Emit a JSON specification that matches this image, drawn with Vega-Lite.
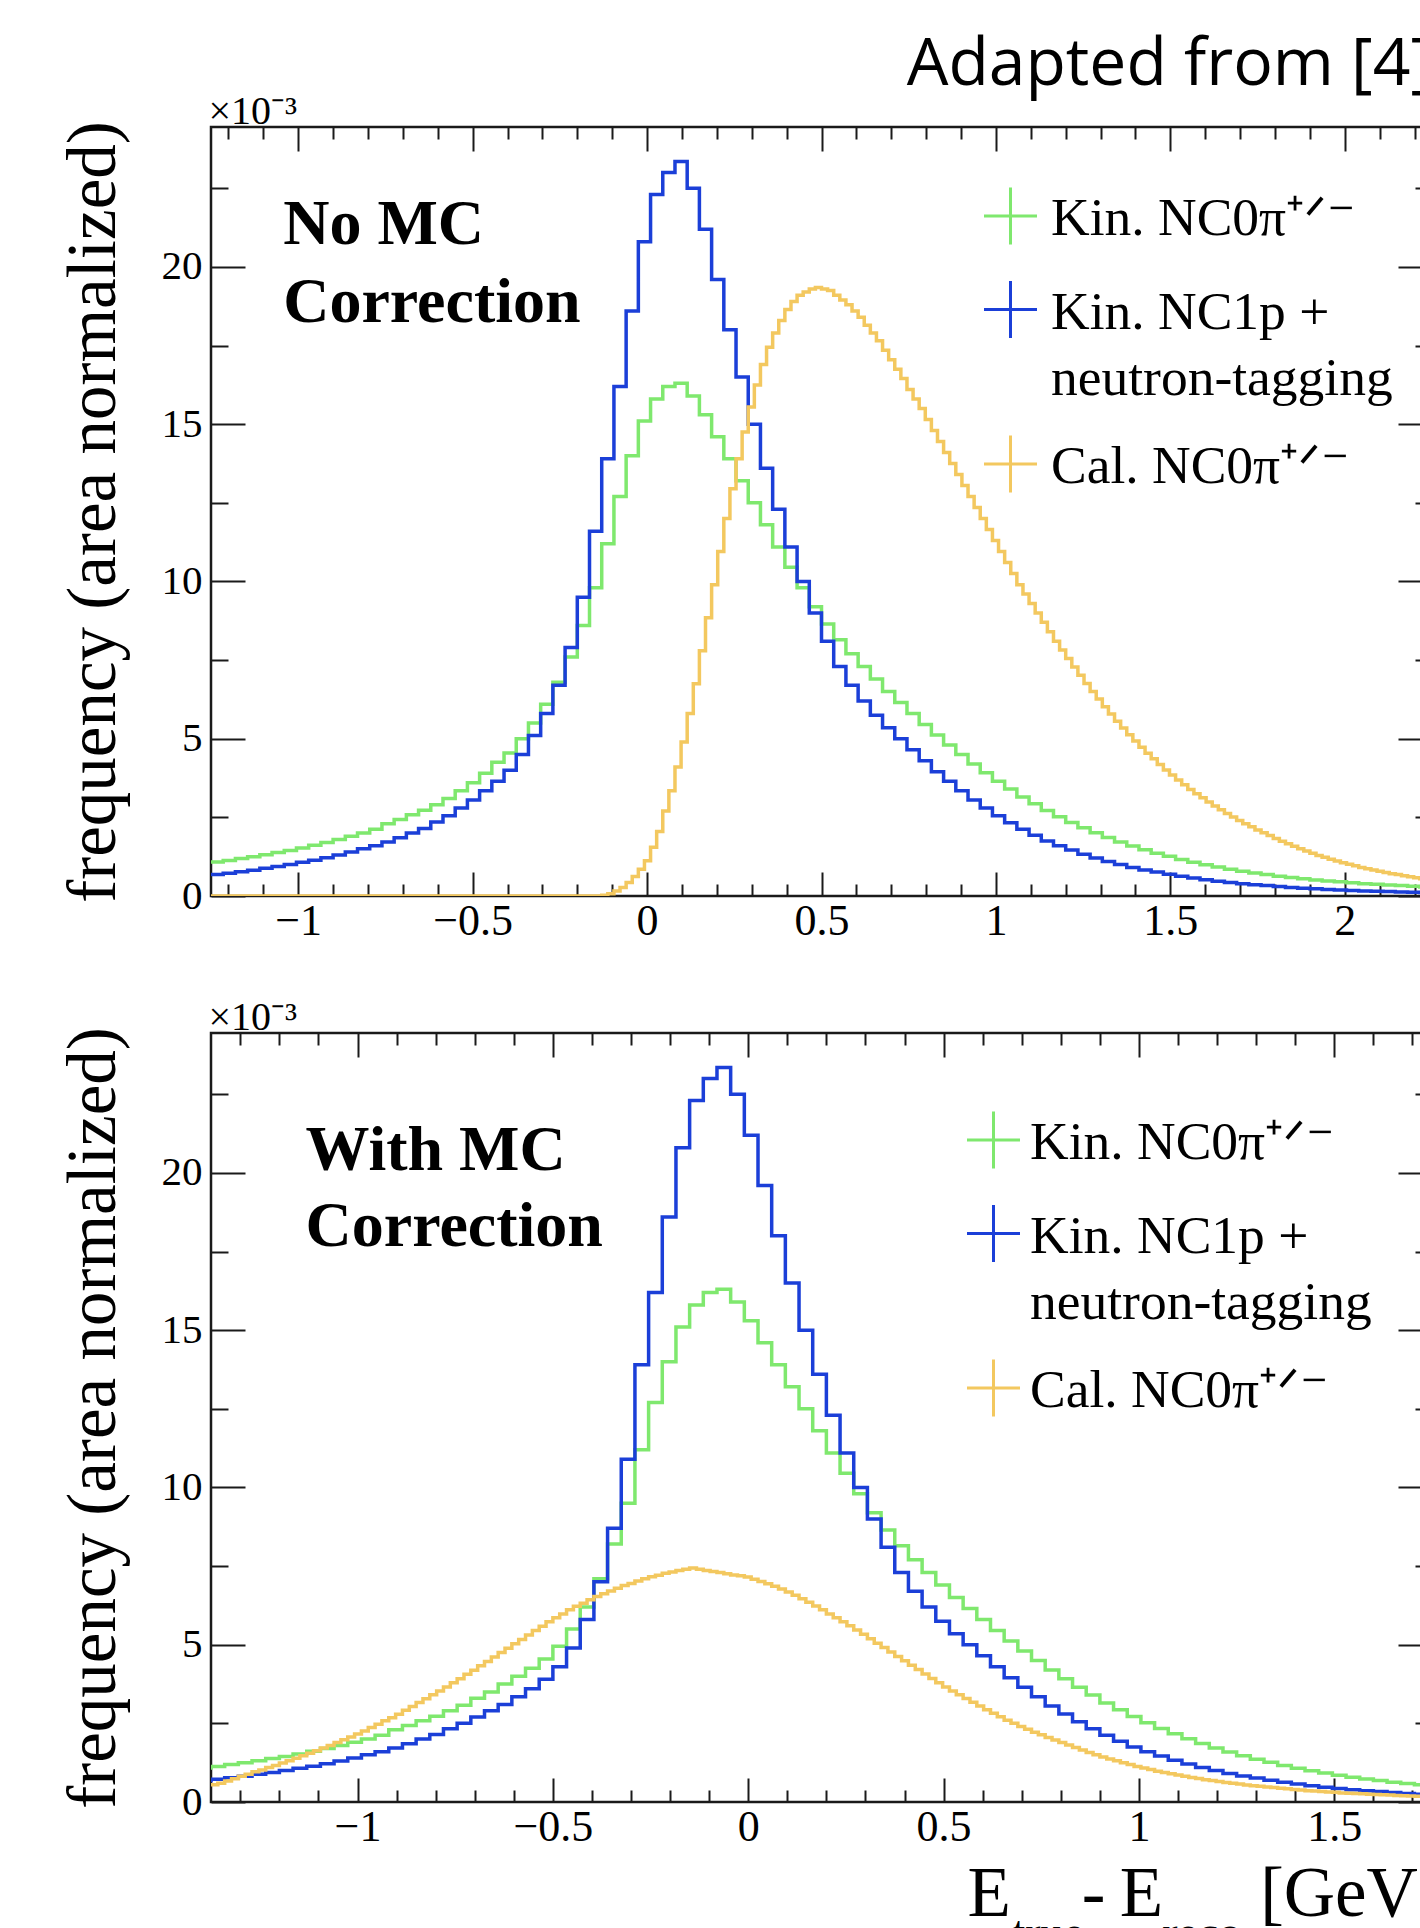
{
  "$schema": "https://vega.github.io/schema/vega-lite/v6.json",
  "background": "white",
  "padding": {"left": 57, "top": 31, "right": 0, "bottom": 0},
  "title": {"text": "Adapted from [4]", "anchor": "end", "frame": "group", "font": "Open Sans", "fontSize": 66, "fontWeight": "normal", "color": "black", "baseline": "alphabetic", "offset": -61},
  "config": {
    "view": {"stroke": "#1a1a1a", "strokeWidth": 2.5},
    "axis": {"grid": false, "domain": false, "tickColor": "#1a1a1a", "tickWidth": 2, "labelFont": "Liberation Serif", "labelColor": "black", "labelFontSize": 44, "labelFlush": false, "labelOverlap": false, "titleColor": "black", "titleFont": "Liberation Serif", "titleFontWeight": "normal"}
  },
  "datasets": {
    "kinTop": [
      {"x":-1.25,"kin0pi":1.08,"kin1p":0.68},{"x":-1.215,"kin0pi":1.13,"kin1p":0.72},{"x":-1.18,"kin0pi":1.19,"kin1p":0.77},{"x":-1.145,"kin0pi":1.25,"kin1p":0.82},{"x":-1.11,"kin0pi":1.31,"kin1p":0.88},{"x":-1.075,"kin0pi":1.38,"kin1p":0.94},{"x":-1.04,"kin0pi":1.45,"kin1p":1.0},{"x":-1.005,"kin0pi":1.53,"kin1p":1.07},{"x":-0.97,"kin0pi":1.61,"kin1p":1.14},{"x":-0.935,"kin0pi":1.7,"kin1p":1.22},
      {"x":-0.9,"kin0pi":1.8,"kin1p":1.3},{"x":-0.865,"kin0pi":1.9,"kin1p":1.4},{"x":-0.83,"kin0pi":2.0,"kin1p":1.5},{"x":-0.795,"kin0pi":2.12,"kin1p":1.6},{"x":-0.76,"kin0pi":2.3,"kin1p":1.72},{"x":-0.725,"kin0pi":2.43,"kin1p":1.85},{"x":-0.69,"kin0pi":2.58,"kin1p":2.0},{"x":-0.655,"kin0pi":2.73,"kin1p":2.15},{"x":-0.62,"kin0pi":2.9,"kin1p":2.35},{"x":-0.585,"kin0pi":3.1,"kin1p":2.55},
      {"x":-0.55,"kin0pi":3.35,"kin1p":2.8},{"x":-0.515,"kin0pi":3.6,"kin1p":3.05},{"x":-0.48,"kin0pi":3.9,"kin1p":3.35},{"x":-0.445,"kin0pi":4.25,"kin1p":3.65},{"x":-0.41,"kin0pi":4.55,"kin1p":4.0},{"x":-0.375,"kin0pi":5.0,"kin1p":4.5},{"x":-0.34,"kin0pi":5.5,"kin1p":5.1},{"x":-0.305,"kin0pi":6.1,"kin1p":5.8},{"x":-0.27,"kin0pi":6.8,"kin1p":6.7},{"x":-0.235,"kin0pi":7.6,"kin1p":7.9},
      {"x":-0.2,"kin0pi":8.6,"kin1p":9.5},{"x":-0.165,"kin0pi":9.8,"kin1p":11.6},{"x":-0.13,"kin0pi":11.2,"kin1p":13.9},{"x":-0.095,"kin0pi":12.7,"kin1p":16.2},{"x":-0.06,"kin0pi":14.0,"kin1p":18.6},{"x":-0.025,"kin0pi":15.1,"kin1p":20.8},{"x":0.01,"kin0pi":15.8,"kin1p":22.3},{"x":0.045,"kin0pi":16.2,"kin1p":23.0},{"x":0.08,"kin0pi":16.3,"kin1p":23.35},{"x":0.115,"kin0pi":15.9,"kin1p":22.5},
      {"x":0.15,"kin0pi":15.3,"kin1p":21.2},{"x":0.185,"kin0pi":14.6,"kin1p":19.6},{"x":0.22,"kin0pi":13.9,"kin1p":18.0},{"x":0.255,"kin0pi":13.2,"kin1p":16.5},{"x":0.29,"kin0pi":12.5,"kin1p":15.0},{"x":0.325,"kin0pi":11.8,"kin1p":13.6},{"x":0.36,"kin0pi":11.1,"kin1p":12.3},{"x":0.395,"kin0pi":10.45,"kin1p":11.1},{"x":0.43,"kin0pi":9.8,"kin1p":10.0},{"x":0.465,"kin0pi":9.2,"kin1p":9.0},
      {"x":0.5,"kin0pi":8.65,"kin1p":8.1},{"x":0.535,"kin0pi":8.15,"kin1p":7.3},{"x":0.57,"kin0pi":7.7,"kin1p":6.7},{"x":0.605,"kin0pi":7.3,"kin1p":6.2},{"x":0.64,"kin0pi":6.9,"kin1p":5.75},{"x":0.675,"kin0pi":6.5,"kin1p":5.35},{"x":0.71,"kin0pi":6.15,"kin1p":5.0},{"x":0.745,"kin0pi":5.8,"kin1p":4.65},{"x":0.78,"kin0pi":5.45,"kin1p":4.3},{"x":0.815,"kin0pi":5.12,"kin1p":3.95},
      {"x":0.85,"kin0pi":4.8,"kin1p":3.65},{"x":0.885,"kin0pi":4.5,"kin1p":3.35},{"x":0.92,"kin0pi":4.2,"kin1p":3.05},{"x":0.955,"kin0pi":3.92,"kin1p":2.8},{"x":0.99,"kin0pi":3.65,"kin1p":2.55},{"x":1.025,"kin0pi":3.4,"kin1p":2.33},{"x":1.06,"kin0pi":3.15,"kin1p":2.12},{"x":1.095,"kin0pi":2.93,"kin1p":1.93},{"x":1.13,"kin0pi":2.72,"kin1p":1.75},{"x":1.165,"kin0pi":2.52,"kin1p":1.6},
      {"x":1.2,"kin0pi":2.34,"kin1p":1.46},{"x":1.235,"kin0pi":2.17,"kin1p":1.33},{"x":1.27,"kin0pi":2.01,"kin1p":1.21},{"x":1.305,"kin0pi":1.86,"kin1p":1.1},{"x":1.34,"kin0pi":1.72,"kin1p":1.0},{"x":1.375,"kin0pi":1.59,"kin1p":0.91},{"x":1.41,"kin0pi":1.47,"kin1p":0.83},{"x":1.445,"kin0pi":1.36,"kin1p":0.76},{"x":1.48,"kin0pi":1.26,"kin1p":0.69},{"x":1.515,"kin0pi":1.16,"kin1p":0.63},
      {"x":1.55,"kin0pi":1.07,"kin1p":0.57},{"x":1.585,"kin0pi":0.99,"kin1p":0.52},{"x":1.62,"kin0pi":0.92,"kin1p":0.47},{"x":1.655,"kin0pi":0.85,"kin1p":0.43},{"x":1.69,"kin0pi":0.79,"kin1p":0.39},{"x":1.725,"kin0pi":0.73,"kin1p":0.36},{"x":1.76,"kin0pi":0.68,"kin1p":0.33},{"x":1.795,"kin0pi":0.63,"kin1p":0.3},{"x":1.83,"kin0pi":0.59,"kin1p":0.27},{"x":1.865,"kin0pi":0.55,"kin1p":0.25},
      {"x":1.9,"kin0pi":0.51,"kin1p":0.23},{"x":1.935,"kin0pi":0.48,"kin1p":0.21},{"x":1.97,"kin0pi":0.45,"kin1p":0.19},{"x":2.005,"kin0pi":0.42,"kin1p":0.175},{"x":2.04,"kin0pi":0.39,"kin1p":0.16},{"x":2.075,"kin0pi":0.37,"kin1p":0.15},{"x":2.11,"kin0pi":0.35,"kin1p":0.14},{"x":2.145,"kin0pi":0.33,"kin1p":0.13},{"x":2.18,"kin0pi":0.31,"kin1p":0.12},{"x":2.215,"kin0pi":0.29,"kin1p":0.11},
      {"x":2.25,"kin0pi":0.29,"kin1p":0.11}
    ],
    "kinBottom": [
      {"x":-1.41,"kin0pi":1.08,"kin1p":0.68},{"x":-1.375,"kin0pi":1.13,"kin1p":0.72},{"x":-1.34,"kin0pi":1.19,"kin1p":0.77},{"x":-1.305,"kin0pi":1.25,"kin1p":0.82},{"x":-1.27,"kin0pi":1.31,"kin1p":0.88},{"x":-1.235,"kin0pi":1.38,"kin1p":0.94},{"x":-1.2,"kin0pi":1.45,"kin1p":1.0},{"x":-1.165,"kin0pi":1.53,"kin1p":1.07},{"x":-1.13,"kin0pi":1.61,"kin1p":1.14},{"x":-1.095,"kin0pi":1.7,"kin1p":1.22},
      {"x":-1.06,"kin0pi":1.8,"kin1p":1.3},{"x":-1.025,"kin0pi":1.9,"kin1p":1.4},{"x":-0.99,"kin0pi":2.0,"kin1p":1.5},{"x":-0.955,"kin0pi":2.12,"kin1p":1.6},{"x":-0.92,"kin0pi":2.3,"kin1p":1.72},{"x":-0.885,"kin0pi":2.43,"kin1p":1.85},{"x":-0.85,"kin0pi":2.58,"kin1p":2.0},{"x":-0.815,"kin0pi":2.73,"kin1p":2.15},{"x":-0.78,"kin0pi":2.9,"kin1p":2.33},{"x":-0.745,"kin0pi":3.08,"kin1p":2.5},
      {"x":-0.71,"kin0pi":3.3,"kin1p":2.7},{"x":-0.675,"kin0pi":3.5,"kin1p":2.9},{"x":-0.64,"kin0pi":3.75,"kin1p":3.1},{"x":-0.605,"kin0pi":4.0,"kin1p":3.35},{"x":-0.57,"kin0pi":4.25,"kin1p":3.6},{"x":-0.535,"kin0pi":4.55,"kin1p":3.9},{"x":-0.5,"kin0pi":4.95,"kin1p":4.3},{"x":-0.465,"kin0pi":5.5,"kin1p":4.9},{"x":-0.43,"kin0pi":6.2,"kin1p":5.8},{"x":-0.395,"kin0pi":7.1,"kin1p":7.0},
      {"x":-0.36,"kin0pi":8.2,"kin1p":8.7},{"x":-0.325,"kin0pi":9.5,"kin1p":10.9},{"x":-0.29,"kin0pi":11.2,"kin1p":13.9},{"x":-0.255,"kin0pi":12.7,"kin1p":16.2},{"x":-0.22,"kin0pi":14.0,"kin1p":18.6},{"x":-0.185,"kin0pi":15.1,"kin1p":20.8},{"x":-0.15,"kin0pi":15.8,"kin1p":22.3},{"x":-0.115,"kin0pi":16.2,"kin1p":23.0},{"x":-0.08,"kin0pi":16.3,"kin1p":23.35},{"x":-0.045,"kin0pi":15.9,"kin1p":22.5},
      {"x":-0.01,"kin0pi":15.3,"kin1p":21.2},{"x":0.025,"kin0pi":14.6,"kin1p":19.6},{"x":0.06,"kin0pi":13.9,"kin1p":18.0},{"x":0.095,"kin0pi":13.2,"kin1p":16.5},{"x":0.13,"kin0pi":12.5,"kin1p":15.0},{"x":0.165,"kin0pi":11.8,"kin1p":13.6},{"x":0.2,"kin0pi":11.1,"kin1p":12.3},{"x":0.235,"kin0pi":10.45,"kin1p":11.1},{"x":0.27,"kin0pi":9.8,"kin1p":10.0},{"x":0.305,"kin0pi":9.2,"kin1p":9.0},
      {"x":0.34,"kin0pi":8.65,"kin1p":8.1},{"x":0.375,"kin0pi":8.15,"kin1p":7.3},{"x":0.41,"kin0pi":7.7,"kin1p":6.7},{"x":0.445,"kin0pi":7.3,"kin1p":6.2},{"x":0.48,"kin0pi":6.9,"kin1p":5.75},{"x":0.515,"kin0pi":6.5,"kin1p":5.35},{"x":0.55,"kin0pi":6.15,"kin1p":5.0},{"x":0.585,"kin0pi":5.8,"kin1p":4.65},{"x":0.62,"kin0pi":5.45,"kin1p":4.3},{"x":0.655,"kin0pi":5.12,"kin1p":3.95},
      {"x":0.69,"kin0pi":4.8,"kin1p":3.65},{"x":0.725,"kin0pi":4.5,"kin1p":3.35},{"x":0.76,"kin0pi":4.2,"kin1p":3.05},{"x":0.795,"kin0pi":3.92,"kin1p":2.8},{"x":0.83,"kin0pi":3.65,"kin1p":2.55},{"x":0.865,"kin0pi":3.4,"kin1p":2.33},{"x":0.9,"kin0pi":3.15,"kin1p":2.12},{"x":0.935,"kin0pi":2.93,"kin1p":1.93},{"x":0.97,"kin0pi":2.72,"kin1p":1.75},{"x":1.005,"kin0pi":2.52,"kin1p":1.6},
      {"x":1.04,"kin0pi":2.34,"kin1p":1.46},{"x":1.075,"kin0pi":2.17,"kin1p":1.33},{"x":1.11,"kin0pi":2.01,"kin1p":1.21},{"x":1.145,"kin0pi":1.86,"kin1p":1.1},{"x":1.18,"kin0pi":1.72,"kin1p":1.0},{"x":1.215,"kin0pi":1.59,"kin1p":0.91},{"x":1.25,"kin0pi":1.47,"kin1p":0.83},{"x":1.285,"kin0pi":1.36,"kin1p":0.76},{"x":1.32,"kin0pi":1.26,"kin1p":0.69},{"x":1.355,"kin0pi":1.16,"kin1p":0.63},
      {"x":1.39,"kin0pi":1.07,"kin1p":0.57},{"x":1.425,"kin0pi":0.99,"kin1p":0.52},{"x":1.46,"kin0pi":0.92,"kin1p":0.47},{"x":1.495,"kin0pi":0.85,"kin1p":0.43},{"x":1.53,"kin0pi":0.79,"kin1p":0.39},{"x":1.565,"kin0pi":0.73,"kin1p":0.36},{"x":1.6,"kin0pi":0.68,"kin1p":0.33},{"x":1.635,"kin0pi":0.63,"kin1p":0.3},{"x":1.67,"kin0pi":0.59,"kin1p":0.27},{"x":1.705,"kin0pi":0.55,"kin1p":0.25},
      {"x":1.74,"kin0pi":0.51,"kin1p":0.23},{"x":1.775,"kin0pi":0.48,"kin1p":0.21}
    ],
    "calTop": [
      {"x":-1.3,"v":0},{"x":-0.13,"v":0.02},{"x":-0.1125,"v":0.07},{"x":-0.095,"v":0.16},{"x":-0.0775,"v":0.27},{"x":-0.06,"v":0.43},{"x":-0.0425,"v":0.62},{"x":-0.025,"v":0.85},{"x":-0.0075,"v":1.12},{"x":0.01,"v":1.55},{"x":0.0275,"v":2.05},
      {"x":0.045,"v":2.7},{"x":0.0625,"v":3.35},{"x":0.08,"v":4.1},{"x":0.0975,"v":4.9},{"x":0.115,"v":5.8},{"x":0.1325,"v":6.75},{"x":0.15,"v":7.8},{"x":0.1675,"v":8.85},{"x":0.185,"v":9.9},{"x":0.2025,"v":10.95},
      {"x":0.22,"v":12.0},{"x":0.2375,"v":12.95},{"x":0.255,"v":13.9},{"x":0.2725,"v":14.75},{"x":0.29,"v":15.55},{"x":0.3075,"v":16.25},{"x":0.325,"v":16.9},{"x":0.3425,"v":17.45},{"x":0.36,"v":17.9},{"x":0.3775,"v":18.3},
      {"x":0.395,"v":18.65},{"x":0.4125,"v":18.9},{"x":0.43,"v":19.1},{"x":0.4475,"v":19.2},{"x":0.465,"v":19.3},{"x":0.4825,"v":19.35},{"x":0.5,"v":19.3},{"x":0.5175,"v":19.25},{"x":0.535,"v":19.1},{"x":0.5525,"v":18.95},
      {"x":0.57,"v":18.8},{"x":0.5875,"v":18.6},{"x":0.605,"v":18.4},{"x":0.6225,"v":18.15},{"x":0.64,"v":17.9},{"x":0.6575,"v":17.65},{"x":0.675,"v":17.35},{"x":0.6925,"v":17.05},{"x":0.71,"v":16.75},{"x":0.7275,"v":16.45},
      {"x":0.745,"v":16.1},{"x":0.7625,"v":15.8},{"x":0.78,"v":15.5},{"x":0.7975,"v":15.15},{"x":0.815,"v":14.8},{"x":0.8325,"v":14.45},{"x":0.85,"v":14.1},{"x":0.8675,"v":13.75},{"x":0.885,"v":13.4},{"x":0.9025,"v":13.05},
      {"x":0.92,"v":12.7},{"x":0.9375,"v":12.35},{"x":0.955,"v":12.0},{"x":0.9725,"v":11.65},{"x":0.99,"v":11.3},{"x":1.0075,"v":10.95},{"x":1.025,"v":10.6},{"x":1.0425,"v":10.25},{"x":1.06,"v":9.9},{"x":1.0775,"v":9.6},
      {"x":1.095,"v":9.3},{"x":1.1125,"v":9.0},{"x":1.13,"v":8.7},{"x":1.1475,"v":8.4},{"x":1.165,"v":8.1},{"x":1.1825,"v":7.82},{"x":1.2,"v":7.55},{"x":1.2175,"v":7.28},{"x":1.235,"v":7.02},{"x":1.2525,"v":6.76},
      {"x":1.27,"v":6.5},{"x":1.2875,"v":6.26},{"x":1.305,"v":6.02},{"x":1.3225,"v":5.79},{"x":1.34,"v":5.56},{"x":1.3575,"v":5.34},{"x":1.375,"v":5.13},{"x":1.3925,"v":4.93},{"x":1.41,"v":4.73},{"x":1.4275,"v":4.54},
      {"x":1.445,"v":4.36},{"x":1.4625,"v":4.18},{"x":1.48,"v":4.01},{"x":1.4975,"v":3.85},{"x":1.515,"v":3.69},{"x":1.5325,"v":3.54},{"x":1.55,"v":3.39},{"x":1.5675,"v":3.25},{"x":1.585,"v":3.12},{"x":1.6025,"v":2.99},
      {"x":1.62,"v":2.86},{"x":1.6375,"v":2.74},{"x":1.655,"v":2.62},{"x":1.6725,"v":2.51},{"x":1.69,"v":2.4},{"x":1.7075,"v":2.3},{"x":1.725,"v":2.2},{"x":1.7425,"v":2.1},{"x":1.76,"v":2.01},{"x":1.7775,"v":1.92},
      {"x":1.795,"v":1.83},{"x":1.8125,"v":1.74},{"x":1.83,"v":1.66},{"x":1.8475,"v":1.58},{"x":1.865,"v":1.5},{"x":1.8825,"v":1.43},{"x":1.9,"v":1.36},{"x":1.9175,"v":1.29},{"x":1.935,"v":1.23},{"x":1.9525,"v":1.17},
      {"x":1.97,"v":1.11},{"x":1.9875,"v":1.06},{"x":2.005,"v":1.01},{"x":2.0225,"v":0.96},{"x":2.04,"v":0.91},{"x":2.0575,"v":0.87},{"x":2.075,"v":0.83},{"x":2.0925,"v":0.79},{"x":2.11,"v":0.75},{"x":2.1275,"v":0.71},
      {"x":2.145,"v":0.68},{"x":2.1625,"v":0.64},{"x":2.18,"v":0.61},{"x":2.1975,"v":0.58},{"x":2.215,"v":0.55},{"x":2.2325,"v":0.52},{"x":2.25,"v":0.52}
    ],
    "calBottom": [
      {"x":-1.375,"v":0.55},{"x":-1.3575,"v":0.6},{"x":-1.34,"v":0.67},{"x":-1.3225,"v":0.74},{"x":-1.305,"v":0.82},{"x":-1.2875,"v":0.88},{"x":-1.27,"v":0.96},{"x":-1.2525,"v":1.02},{"x":-1.235,"v":1.1},{"x":-1.2175,"v":1.16},
      {"x":-1.2,"v":1.24},{"x":-1.1825,"v":1.31},{"x":-1.165,"v":1.39},{"x":-1.1475,"v":1.47},{"x":-1.13,"v":1.55},{"x":-1.1125,"v":1.63},{"x":-1.095,"v":1.72},{"x":-1.0775,"v":1.8},{"x":-1.06,"v":1.89},{"x":-1.0425,"v":1.98},
      {"x":-1.025,"v":2.07},{"x":-1.0075,"v":2.16},{"x":-0.99,"v":2.26},{"x":-0.9725,"v":2.37},{"x":-0.955,"v":2.47},{"x":-0.9375,"v":2.58},{"x":-0.92,"v":2.68},{"x":-0.9025,"v":2.79},{"x":-0.885,"v":2.92},{"x":-0.8675,"v":3.04},
      {"x":-0.85,"v":3.16},{"x":-0.8325,"v":3.28},{"x":-0.815,"v":3.41},{"x":-0.7975,"v":3.53},{"x":-0.78,"v":3.66},{"x":-0.7625,"v":3.79},{"x":-0.745,"v":3.92},{"x":-0.7275,"v":4.06},{"x":-0.71,"v":4.19},{"x":-0.6925,"v":4.33},
      {"x":-0.675,"v":4.47},{"x":-0.6575,"v":4.61},{"x":-0.64,"v":4.75},{"x":-0.6225,"v":4.89},{"x":-0.605,"v":5.03},{"x":-0.5875,"v":5.17},{"x":-0.57,"v":5.31},{"x":-0.5525,"v":5.45},{"x":-0.535,"v":5.59},{"x":-0.5175,"v":5.73},
      {"x":-0.5,"v":5.86},{"x":-0.4825,"v":5.98},{"x":-0.465,"v":6.11},{"x":-0.4475,"v":6.22},{"x":-0.43,"v":6.32},{"x":-0.4125,"v":6.43},{"x":-0.395,"v":6.53},{"x":-0.3775,"v":6.62},{"x":-0.36,"v":6.71},{"x":-0.3425,"v":6.8},
      {"x":-0.325,"v":6.88},{"x":-0.3075,"v":6.95},{"x":-0.29,"v":7.03},{"x":-0.2725,"v":7.1},{"x":-0.255,"v":7.16},{"x":-0.2375,"v":7.21},{"x":-0.22,"v":7.27},{"x":-0.2025,"v":7.31},{"x":-0.185,"v":7.36},{"x":-0.1675,"v":7.4},
      {"x":-0.15,"v":7.44},{"x":-0.1325,"v":7.4},{"x":-0.115,"v":7.36},{"x":-0.0975,"v":7.33},{"x":-0.08,"v":7.3},{"x":-0.0625,"v":7.26},{"x":-0.045,"v":7.22},{"x":-0.0275,"v":7.19},{"x":-0.01,"v":7.15},{"x":0.0075,"v":7.08},
      {"x":0.025,"v":7.01},{"x":0.0425,"v":6.94},{"x":0.06,"v":6.86},{"x":0.0775,"v":6.77},{"x":0.095,"v":6.68},{"x":0.1125,"v":6.57},{"x":0.13,"v":6.46},{"x":0.1475,"v":6.35},{"x":0.165,"v":6.23},{"x":0.1825,"v":6.11},
      {"x":0.2,"v":5.98},{"x":0.2175,"v":5.86},{"x":0.235,"v":5.73},{"x":0.2525,"v":5.6},{"x":0.27,"v":5.47},{"x":0.2875,"v":5.33},{"x":0.305,"v":5.19},{"x":0.3225,"v":5.05},{"x":0.34,"v":4.91},{"x":0.3575,"v":4.77},
      {"x":0.375,"v":4.63},{"x":0.3925,"v":4.49},{"x":0.41,"v":4.35},{"x":0.4275,"v":4.21},{"x":0.445,"v":4.07},{"x":0.4625,"v":3.93},{"x":0.48,"v":3.79},{"x":0.4975,"v":3.66},{"x":0.515,"v":3.53},{"x":0.5325,"v":3.41},
      {"x":0.55,"v":3.29},{"x":0.5675,"v":3.17},{"x":0.585,"v":3.05},{"x":0.6025,"v":2.93},{"x":0.62,"v":2.82},{"x":0.6375,"v":2.71},{"x":0.655,"v":2.6},{"x":0.6725,"v":2.5},{"x":0.69,"v":2.4},{"x":0.7075,"v":2.31},
      {"x":0.725,"v":2.22},{"x":0.7425,"v":2.14},{"x":0.76,"v":2.05},{"x":0.7775,"v":1.97},{"x":0.795,"v":1.89},{"x":0.8125,"v":1.81},{"x":0.83,"v":1.73},{"x":0.8475,"v":1.65},{"x":0.865,"v":1.57},{"x":0.8825,"v":1.5},
      {"x":0.9,"v":1.43},{"x":0.9175,"v":1.37},{"x":0.935,"v":1.31},{"x":0.9525,"v":1.25},{"x":0.97,"v":1.19},{"x":0.9875,"v":1.13},{"x":1.005,"v":1.08},{"x":1.0225,"v":1.03},{"x":1.04,"v":0.98},{"x":1.0575,"v":0.94},
      {"x":1.075,"v":0.9},{"x":1.0925,"v":0.86},{"x":1.11,"v":0.82},{"x":1.1275,"v":0.78},{"x":1.145,"v":0.75},{"x":1.1625,"v":0.71},{"x":1.18,"v":0.68},{"x":1.1975,"v":0.65},{"x":1.215,"v":0.62},{"x":1.2325,"v":0.6},
      {"x":1.25,"v":0.57},{"x":1.2675,"v":0.54},{"x":1.285,"v":0.52},{"x":1.3025,"v":0.5},{"x":1.32,"v":0.48},{"x":1.3375,"v":0.46},{"x":1.355,"v":0.44},{"x":1.3725,"v":0.42},{"x":1.39,"v":0.4},{"x":1.4075,"v":0.38},
      {"x":1.425,"v":0.36},{"x":1.4425,"v":0.35},{"x":1.46,"v":0.33},{"x":1.4775,"v":0.32},{"x":1.495,"v":0.31},{"x":1.5125,"v":0.29},{"x":1.53,"v":0.28},{"x":1.5475,"v":0.27},{"x":1.565,"v":0.26},{"x":1.5825,"v":0.25},
      {"x":1.6,"v":0.24},{"x":1.6175,"v":0.23},{"x":1.635,"v":0.22},{"x":1.6525,"v":0.21},{"x":1.67,"v":0.2},{"x":1.6875,"v":0.19},{"x":1.705,"v":0.185},{"x":1.7225,"v":0.18},{"x":1.74,"v":0.17},{"x":1.7575,"v":0.165},
      {"x":1.775,"v":0.165}
    ]
  },
  "vconcat": [
    {
      "width": 1221,
      "height": 769,
      "resolve": {"axis": {"x": "independent", "y": "independent"}},
      "layer": [
        {
          "data": {"name": "kinTop"},
          "transform": [{"fold": ["kin0pi", "kin1p"], "as": ["series", "v"]}],
          "mark": {"type": "line", "interpolate": "step-after", "strokeWidth": 3.5, "clip": true},
          "encoding": {
            "x": {"field": "x", "type": "quantitative", "scale": {"domain": [-1.25, 2.25], "nice": false, "zero": false},
                  "axis": {"orient": "bottom", "values": [-1, -0.5, 0, 0.5, 1, 1.5, 2], "format": "~g", "tickSize": -24, "labelPadding": 27, "title": null}},
            "y": {"field": "v", "type": "quantitative", "scale": {"domain": [0, 24.45], "nice": false, "zero": false},
                  "axis": {"orient": "left", "values": [0, 5, 10, 15, 20], "tickSize": -34, "labelPadding": 43, "labelFontSize": 41,
                           "title": "frequency (area normalized)", "titleFontSize": 69, "titleX": -97, "titleY": 384.5, "titleAngle": -90, "titleAlign": "center", "titleBaseline": "alphabetic"}},
            "color": {"field": "series", "type": "nominal",
                      "scale": {"domain": ["kin0pi", "kin1p", "cal0pi"], "range": ["#7fe86e", "#1b3fd8", "#f3c85f"]},
                      "legend": {"orient": "none", "legendX": 771.5, "legendY": 80, "title": null, "padding": 0,
                                 "symbolType": "M-1,-0.717H1M0,-1.792V0.358", "symbolSize": 2809, "symbolStrokeWidth": 3,
                                 "labelFont": "Liberation Serif", "labelFontSize": 53.5, "labelColor": "black", "labelBaseline": "alphabetic",
                                 "labelOffset": 12.5, "labelLimit": 0, "rowPadding": 23.5,
                                 "labelExpr": "datum.label == 'kin0pi' ? 'Kin. NC0π⁺ᐟ⁻' : datum.label == 'kin1p' ? ['Kin. NC1p +', 'neutron-tagging'] : 'Cal. NC0π⁺ᐟ⁻'",
                                 "encode": {"labels": {"update": {"lineHeight": {"value": 66}}}}}}
          }
        },
        {
          "data": {"name": "calTop"},
          "mark": {"type": "line", "interpolate": "step-after", "strokeWidth": 3.5, "clip": true},
          "encoding": {
            "x": {"field": "x", "type": "quantitative",
                  "axis": {"orient": "bottom", "values": [-1.2, -1.1, -0.9, -0.8, -0.7, -0.6, -0.4, -0.3, -0.2, -0.1, 0.1, 0.2, 0.3, 0.4, 0.6, 0.7, 0.8, 0.9, 1.1, 1.2, 1.3, 1.4, 1.6, 1.7, 1.8, 1.9, 2.1, 2.2], "tickSize": -12, "labels": false, "title": null}},
            "y": {"field": "v", "type": "quantitative",
                  "axis": {"orient": "left", "values": [2.5, 7.5, 12.5, 17.5, 22.5], "tickSize": -17, "labels": false,
                           "title": "×10⁻³", "titleFontSize": 40, "titleX": -3, "titleY": -4, "titleAngle": 0, "titleAlign": "left", "titleBaseline": "alphabetic"}},
            "color": {"datum": "cal0pi"}
          }
        },
        {
          "data": {"values": [{}]},
          "mark": {"type": "text", "font": "Liberation Serif", "fontWeight": "bold", "fontSize": 64, "align": "left", "baseline": "alphabetic", "color": "black"},
          "encoding": {
            "x": {"datum": -1.043, "type": "quantitative",
                  "axis": {"orient": "top", "values": [-1, -0.5, 0, 0.5, 1, 1.5, 2], "tickSize": -24, "labels": false, "title": null}},
            "y": {"datum": 20.74, "type": "quantitative",
                  "axis": {"orient": "right", "values": [0, 5, 10, 15, 20], "tickSize": -34, "labels": false, "title": null}},
            "text": {"value": "No MC"}
          }
        },
        {
          "data": {"values": [{}]},
          "mark": {"type": "text", "font": "Liberation Serif", "fontWeight": "bold", "fontSize": 64, "align": "left", "baseline": "alphabetic", "color": "black"},
          "encoding": {
            "x": {"datum": -1.043, "type": "quantitative",
                  "axis": {"orient": "top", "values": [-1.2, -1.1, -0.9, -0.8, -0.7, -0.6, -0.4, -0.3, -0.2, -0.1, 0.1, 0.2, 0.3, 0.4, 0.6, 0.7, 0.8, 0.9, 1.1, 1.2, 1.3, 1.4, 1.6, 1.7, 1.8, 1.9, 2.1, 2.2], "tickSize": -12, "labels": false, "title": null}},
            "y": {"datum": 18.26, "type": "quantitative",
                  "axis": {"orient": "right", "values": [2.5, 7.5, 12.5, 17.5, 22.5], "tickSize": -17, "labels": false, "title": null}},
            "text": {"value": "Correction"}
          }
        }
      ]
    },
    {
      "width": 1221,
      "height": 769,
      "resolve": {"axis": {"x": "independent", "y": "independent"}},
      "layer": [
        {
          "data": {"name": "kinBottom"},
          "transform": [{"fold": ["kin0pi", "kin1p"], "as": ["series", "v"]}],
          "mark": {"type": "line", "interpolate": "step-after", "strokeWidth": 3.5, "clip": true},
          "encoding": {
            "x": {"field": "x", "type": "quantitative", "scale": {"domain": [-1.375, 1.75], "nice": false, "zero": false},
                  "axis": {"orient": "bottom", "values": [-1, -0.5, 0, 0.5, 1, 1.5], "format": "~g", "tickSize": -24, "labelPadding": 27,
                           "title": "E\u2003-\u2009E\u2003\u2009\u2006[GeV]", "titleFontSize": 71, "titleX": 756, "titleY": 113, "titleAngle": 0, "titleAlign": "left", "titleBaseline": "alphabetic"}},
            "y": {"field": "v", "type": "quantitative", "scale": {"domain": [0, 24.45], "nice": false, "zero": false},
                  "axis": {"orient": "left", "values": [0, 5, 10, 15, 20], "tickSize": -34, "labelPadding": 43, "labelFontSize": 41,
                           "title": "frequency (area normalized)", "titleFontSize": 69, "titleX": -97, "titleY": 384.5, "titleAngle": -90, "titleAlign": "center", "titleBaseline": "alphabetic"}},
            "color": {"field": "series", "type": "nominal",
                      "scale": {"domain": ["kin0pi", "kin1p", "cal0pi"], "range": ["#7fe86e", "#1b3fd8", "#f3c85f"]},
                      "legend": {"orient": "none", "legendX": 754.5, "legendY": 98, "title": null, "padding": 0,
                                 "symbolType": "M-1,-0.717H1M0,-1.792V0.358", "symbolSize": 2809, "symbolStrokeWidth": 3,
                                 "labelFont": "Liberation Serif", "labelFontSize": 53.5, "labelColor": "black", "labelBaseline": "alphabetic",
                                 "labelOffset": 8.5, "labelLimit": 0, "rowPadding": 23.5,
                                 "labelExpr": "datum.label == 'kin0pi' ? 'Kin. NC0π⁺ᐟ⁻' : datum.label == 'kin1p' ? ['Kin. NC1p +', 'neutron-tagging'] : 'Cal. NC0π⁺ᐟ⁻'",
                                 "encode": {"labels": {"update": {"lineHeight": {"value": 66}}}}}}
          }
        },
        {
          "data": {"name": "calBottom"},
          "mark": {"type": "line", "interpolate": "step-after", "strokeWidth": 3.5, "clip": true},
          "encoding": {
            "x": {"field": "x", "type": "quantitative",
                  "axis": {"orient": "bottom", "values": [-1.3, -1.2, -1.1, -0.9, -0.8, -0.7, -0.6, -0.4, -0.3, -0.2, -0.1, 0.1, 0.2, 0.3, 0.4, 0.6, 0.7, 0.8, 0.9, 1.1, 1.2, 1.3, 1.4, 1.6, 1.7], "tickSize": -12, "labels": false,
                           "title": "true\u2003\u2002\u2009reco", "titleFontSize": 46, "titleX": 801, "titleY": 145, "titleAngle": 0, "titleAlign": "left", "titleBaseline": "alphabetic"}},
            "y": {"field": "v", "type": "quantitative",
                  "axis": {"orient": "left", "values": [2.5, 7.5, 12.5, 17.5, 22.5], "tickSize": -17, "labels": false,
                           "title": "×10⁻³", "titleFontSize": 40, "titleX": -3, "titleY": -4, "titleAngle": 0, "titleAlign": "left", "titleBaseline": "alphabetic"}},
            "color": {"datum": "cal0pi"}
          }
        },
        {
          "data": {"values": [{}]},
          "mark": {"type": "text", "font": "Liberation Serif", "fontWeight": "bold", "fontSize": 64, "align": "left", "baseline": "alphabetic", "color": "black"},
          "encoding": {
            "x": {"datum": -1.133, "type": "quantitative",
                  "axis": {"orient": "top", "values": [-1, -0.5, 0, 0.5, 1, 1.5], "tickSize": -24, "labels": false, "title": null}},
            "y": {"datum": 20.1, "type": "quantitative",
                  "axis": {"orient": "right", "values": [0, 5, 10, 15, 20], "tickSize": -34, "labels": false, "title": null}},
            "text": {"value": "With MC"}
          }
        },
        {
          "data": {"values": [{}]},
          "mark": {"type": "text", "font": "Liberation Serif", "fontWeight": "bold", "fontSize": 64, "align": "left", "baseline": "alphabetic", "color": "black"},
          "encoding": {
            "x": {"datum": -1.133, "type": "quantitative",
                  "axis": {"orient": "top", "values": [-1.3, -1.2, -1.1, -0.9, -0.8, -0.7, -0.6, -0.4, -0.3, -0.2, -0.1, 0.1, 0.2, 0.3, 0.4, 0.6, 0.7, 0.8, 0.9, 1.1, 1.2, 1.3, 1.4, 1.6, 1.7], "tickSize": -12, "labels": false, "title": null}},
            "y": {"datum": 17.68, "type": "quantitative",
                  "axis": {"orient": "right", "values": [2.5, 7.5, 12.5, 17.5, 22.5], "tickSize": -17, "labels": false, "title": null}},
            "text": {"value": "Correction"}
          }
        }
      ]
    }
  ],
  "spacing": 137,
  "bounds": "flush",
  "resolve": {"legend": {"color": "independent"}}
}
